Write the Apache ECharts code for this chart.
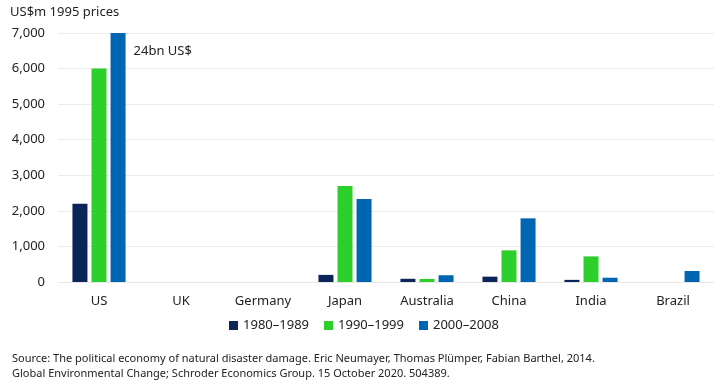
<!DOCTYPE html>
<html><head><meta charset="utf-8">
<script src="https://cdn.jsdelivr.net/npm/echarts@6/dist/echarts.min.js"></script>
<style>html,body{margin:0;padding:0;background:#fff}#c{width:728px;height:387px}</style>
</head><body><div id="c"></div>
<script>
const categories = ['US','UK','Germany','Japan','Australia','China','India','Brazil'];
const seriesNames = ['1980–1989','1990–1999','2000–2008'];
const s1980 = [2200, 0, 0, 200, 90, 150, 60, 0];
const s1990 = [6000, 0, 0, 2700, 85, 890, 720, 0];
const s2000 = [7000, 0, 0, 2330, 190, 1790, 120, 310];
const colors = ['#0b2559', '#2dcf2d', '#0066b3'];
const yTicks = [0, 1000, 2000, 3000, 4000, 5000, 6000, 7000];
const annotation = '24bn US$';
const font = '"Noto Sans", "Open Sans", sans-serif';

const chart = echarts.init(document.getElementById('c'), null, {renderer: 'canvas'});
const mk = (name, data, color, idx) => ({
  name, type: 'bar', data: data.map((v, i) => {
    if (idx === 2 && i === 0) {
      return {value: v, label: {show: true, formatter: annotation, position: ['100%', 0], offset: [8, 12],
        color: '#222', fontSize: 13, fontFamily: font, align: 'left', verticalAlign: 'top'}};
    }
    return v;
  }),
  itemStyle: {color}, barWidth: 15, barGap: '27%'
});
chart.setOption({
  animation: false,
  textStyle: {fontFamily: font},
  grid: {left: 58, right: 14, top: 33, bottom: 105},
  legend: {
    data: seriesNames, bottom: 50, left: 'center', icon: 'rect', itemWidth: 9, itemHeight: 9, itemGap: 15,
    textStyle: {fontSize: 13, color: '#222', fontFamily: font}
  },
  xAxis: {
    type: 'category', data: categories,
    axisLine: {lineStyle: {color: '#e8e8e8'}}, axisTick: {show: false},
    axisLabel: {fontSize: 13, color: '#222', margin: 13, fontFamily: font}
  },
  yAxis: {
    type: 'value', min: 0, max: 7000, interval: 1000,
    axisLine: {show: false}, axisTick: {show: false},
    splitLine: {lineStyle: {color: '#ececec'}},
    axisLabel: {fontSize: 13, color: '#222', margin: 13, fontFamily: font,
      formatter: v => yTicks.includes(v) ? v.toLocaleString('en-US') : ''}
  },
  graphic: [
    {type: 'text', left: 10, top: 6, style: {text: 'US$m 1995 prices', fontSize: 13, fill: '#222', fontFamily: font}},
    {type: 'text', left: 12, top: 351, style: {text: 'Source: The political economy of natural disaster damage. Eric Neumayer, Thomas Plümper, Fabian Barthel, 2014.\nGlobal Environmental Change; Schroder Economics Group. 15 October 2020. 504389.', fontSize: 11, lineHeight: 15, fill: '#222', fontFamily: font}}
  ],
  series: [mk(seriesNames[0], s1980, colors[0], 0), mk(seriesNames[1], s1990, colors[1], 1), mk(seriesNames[2], s2000, colors[2], 2)]
});
</script></body></html>
